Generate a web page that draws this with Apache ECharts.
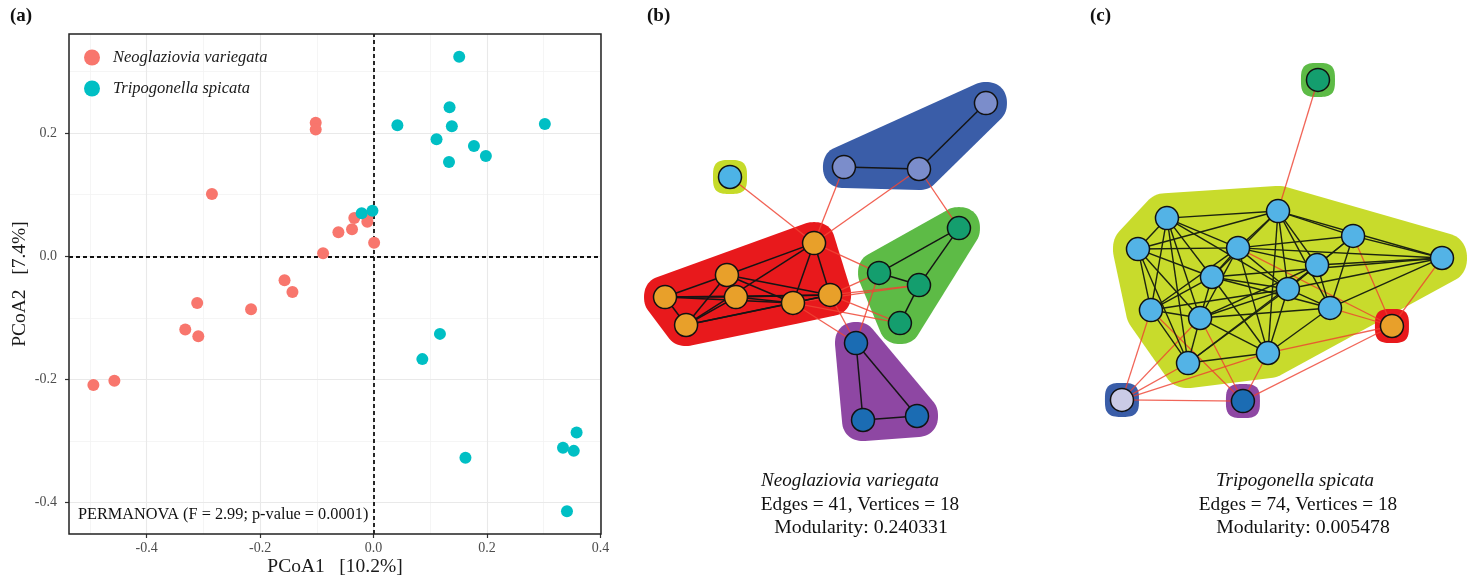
<!DOCTYPE html>
<html><head><meta charset="utf-8">
<script src="https://cdn.jsdelivr.net/npm/echarts@6/dist/echarts.min.js"></script>
<style>html,body{margin:0;padding:0;background:#fff}#c{width:1470px;height:580px}</style>
</head><body><div id="c"></div>
<script>
// ---------------- Panel (a): PCoA ----------------
const neoName = 'Neoglaziovia variegata';
const triName = 'Tripogonella spicata';
const neoX = [-0.494,-0.457,-0.332,-0.309,-0.311,-0.285,-0.216,-0.157,-0.143,-0.102,-0.102,-0.089,-0.062,-0.038,-0.034,-0.011,-0.011,0.001];
const neoY = [-0.209,-0.202,-0.119,-0.130,-0.076,0.101,-0.086,-0.039,-0.058,0.217,0.206,0.005,0.039,0.044,0.062,0.065,0.056,0.022];
const triX = [0.151,0.042,0.134,0.138,0.111,0.133,0.177,0.198,0.302,-0.021,-0.002,0.117,0.086,0.162,0.358,0.334,0.353,0.341];
const triY = [0.324,0.213,0.242,0.211,0.190,0.153,0.179,0.163,0.215,0.070,0.074,-0.126,-0.167,-0.327,-0.286,-0.311,-0.316,-0.414];
const xTicks = [-0.4,-0.2,0,0.2,0.4];
const yTicks = [-0.4,-0.2,0,0.2];
const xMinor = [-0.5,-0.3,-0.1,0.1,0.3];
const yMinor = [-0.3,-0.1,0.1,0.3];
const xTitle = 'PCoA1   [10.2%]';
const yTitle = 'PCoA2   [7.4%]';
const statText = 'PERMANOVA (F = 2.99; p-value = 0.0001)';

// ---------------- Panel (b): network ----------------
const bNodes = ['B1','B2','B3','Y1','R1','R2','R3','R4','R5','R6','R7','G1','G2','G3','G4','P1','P2','P3'];
const bX = [0.922,0.133,0.55,-0.5,-0.033,-0.517,-0.467,-0.861,-0.15,0.056,-0.744,0.772,0.328,0.55,0.444,0.2,0.239,0.539];
const bY = [0.826,0.489,0.479,0.437,0.089,-0.079,-0.195,-0.195,-0.226,-0.184,-0.342,0.168,-0.068,-0.132,-0.332,-0.437,-0.842,-0.821];
const bGroup = [0,0,0,1,2,2,2,2,2,2,2,3,3,3,3,4,4,4];
const bEdges = [
  ['B2','B3'],['B3','B1'],
  ['P1','P2'],['P1','P3'],['P2','P3'],
  ['G1','G2'],['G1','G3'],['G2','G3'],['G3','G4'],
  ['R1','R2'],['R1','R7'],['R1','R5'],['R1','R6'],['R2','R3'],['R2','R4'],['R2','R5'],['R2','R6'],['R2','R7'],
  ['R3','R4'],['R3','R5'],['R3','R6'],['R3','R7'],['R4','R5'],['R4','R6'],['R4','R7'],['R5','R6'],['R5','R7'],['R6','R7'],
  ['Y1','R1'],['B2','R1'],['B3','R1'],['B3','G1'],['R1','G2'],['R6','G2'],['R6','G3'],['R5','G3'],['R6','G4'],['R5','G4'],
  ['R6','P1'],['R5','P1'],['G2','P1']
];
const bCaption = ['Neoglaziovia variegata','Edges = 41, Vertices = 18','Modularity: 0.240331'];

// ---------------- Panel (c): network ----------------
const cNodes = ['G','C1','C2','C3','C4','C5','C6','C7','C8','C9','C10','C11','C12','C13','C14','R','Bl','Pu'];
const cX = [0.211,-0.628,-0.011,-0.789,-0.233,0.406,0.9,0.206,-0.378,0.044,-0.717,-0.444,0.278,-0.511,-0.067,0.622,-0.878,-0.206];
const cY = [0.895,0.168,0.205,0.005,0.011,0.074,-0.042,-0.079,-0.142,-0.205,-0.316,-0.358,-0.305,-0.595,-0.542,-0.4,-0.789,-0.795];
const cGroup = [0,1,1,1,1,1,1,1,1,1,1,1,1,1,1,2,3,4];
const cEdges = [
  ['C1','C2'],['C1','C3'],['C1','C4'],['C1','C8'],['C1','C9'],['C1','C10'],['C1','C11'],['C1','C13'],
  ['C2','C3'],['C2','C4'],['C2','C5'],['C2','C6'],['C2','C7'],['C2','C8'],['C2','C9'],['C2','C12'],['C2','C14'],
  ['C3','C4'],['C3','C8'],['C3','C10'],['C3','C11'],['C3','C13'],
  ['C4','C5'],['C4','C6'],['C4','C8'],['C4','C9'],['C4','C10'],['C4','C11'],['C4','C14'],['C4','C7'],
  ['C5','C6'],['C5','C7'],['C5','C9'],['C5','C12'],
  ['C6','C7'],['C6','C8'],['C6','C9'],['C6','C12'],
  ['C7','C9'],['C7','C11'],['C7','C12'],['C7','C13'],
  ['C8','C9'],['C8','C10'],['C8','C11'],['C8','C12'],['C8','C14'],
  ['C9','C10'],['C9','C11'],['C9','C12'],['C9','C13'],['C9','C14'],
  ['C10','C11'],['C10','C13'],
  ['C11','C12'],['C11','C13'],['C11','C14'],
  ['C12','C14'],['C13','C14'],
  ['G','C2'],['R','C4'],['R','C5'],['R','C6'],['R','C12'],['R','C14'],['R','Pu'],['Bl','Pu'],
  ['Bl','C10'],['Bl','C11'],['Bl','C13'],['Bl','C14'],['Pu','C10'],['Pu','C11'],['Pu','C14']
];
const cCaption = ['Tripogonella spicata','Edges = 74, Vertices = 18','Modularity: 0.005478'];

// ---------------- styles ----------------
const FONT = "'Liberation Serif', 'DejaVu Serif', serif";
const colNeo = '#F8766D', colTri = '#00BFC4';
const bHullFill = ['#3A5DA8','#C6DB2A','#E8191C','#5DBB46','#8E47A3'];
const bNodeFill = ['#7B8DCB','#4DB3E6','#E8A02A','#149E6E','#1B6CB3'];
const cHullFill = ['#5DBB46','#C8DB2C','#E8191C','#3A5DA8','#8E47A3'];
const cNodeFill = ['#149E6E','#53B3E6','#E8A02A','#CACBE6','#1B6CB3'];

function convexHull(pts){
  const p = pts.slice().sort((a,b)=>a[0]-b[0]||a[1]-b[1]);
  const cross=(o,a,b)=>(a[0]-o[0])*(b[1]-o[1])-(a[1]-o[1])*(b[0]-o[0]);
  const lo=[],up=[];
  for(const q of p){while(lo.length>=2&&cross(lo[lo.length-2],lo[lo.length-1],q)<=0)lo.pop();lo.push(q);}
  for(let i=p.length-1;i>=0;i--){const q=p[i];while(up.length>=2&&cross(up[up.length-2],up[up.length-1],q)<=0)up.pop();up.push(q);}
  up.pop();lo.pop();return lo.concat(up);
}
function blob(c, r, n){
  const out=[];
  for(let k=0;k<64;k++){
    const t=k/64*Math.PI*2, ct=Math.cos(t), st=Math.sin(t);
    const rr = r/Math.pow(Math.pow(Math.abs(ct),n)+Math.pow(Math.abs(st),n),1/n);
    out.push([c[0]+rr*ct, c[1]+rr*st]);
  }
  return out;
}
function hullSeries(xs, ys, groups, fills, axisIdx, padFn){
  const nG = fills.length;
  const data = [];
  for(let g=0; g<nG; g++) data.push([g]);
  return {
    type:'custom', coordinateSystem:'cartesian2d', xAxisIndex:axisIdx, yAxisIndex:axisIdx,
    silent:true, z:1, clip:false, data:data,
    encode:{x:0, y:0},
    renderItem:function(params, api){
      const g = data[params.dataIndex][0];
      let count=0;
      for(let i=0;i<xs.length;i++){ if(groups[i]===g){ count++; } }
      const pad = padFn(g, count);
      let pts=[];
      for(let i=0;i<xs.length;i++){
        if(groups[i]!==g) continue;
        const c = api.coord([xs[i], ys[i]]);
        pts = pts.concat(blob(c, pad, count===1 ? 3.2 : 2.2));
      }
      const h = convexHull(pts);
      return {type:'polygon', shape:{points:h, smooth:0}, style:{fill:fills[g], stroke:null}};
    }
  };
}
function edgeSeries(nodes, xs, ys, groups, edges, axisIdx, sameGroup, color, width, z, opacity){
  const data=[];
  for(const e of edges){
    const i=nodes.indexOf(e[0]), j=nodes.indexOf(e[1]);
    if((groups[i]===groups[j])!==sameGroup) continue;
    data.push({coords:[[xs[i],ys[i]],[xs[j],ys[j]]]});
  }
  return {type:'lines', coordinateSystem:'cartesian2d', xAxisIndex:axisIdx, yAxisIndex:axisIdx,
    silent:true, z:z, clip:false, data:data, symbol:'none',
    lineStyle:{color:color, width:width, opacity:opacity, curveness:0}};
}
function nodeSeries(xs, ys, groups, fills, axisIdx){
  return {type:'scatter', xAxisIndex:axisIdx, yAxisIndex:axisIdx, silent:true, z:5, clip:false,
    symbolSize:23,
    data: xs.map((x,i)=>({value:[x, ys[i]], itemStyle:{color:fills[groups[i]], borderColor:'#111', borderWidth:1.5, opacity:1}}))};
}
const X0 = -0.537, X1 = 0.401, Y0 = -0.451, Y1 = 0.361;
function vLines(list){ return list.map(v=>({coords:[[v,Y0],[v,Y1]]})); }
function hLines(list){ return list.map(v=>({coords:[[X0,v],[X1,v]]})); }
function refLines(list, color, width, type, z){
  return {type:'lines', coordinateSystem:'cartesian2d', xAxisIndex:0, yAxisIndex:0, silent:true, z:z,
    symbol:'none', data:list, lineStyle:{color:color, width:width, type:type, opacity:1}};
}

const chart = echarts.init(document.getElementById('c'), null, {renderer:'canvas'});
const lab = {fontFamily:FONT, fontSize:14, color:'#4D4D4D'};
const option = {
  animation:false,
  backgroundColor:'#fff',
  textStyle:{fontFamily:FONT},
  grid:[
    {left:69, top:34, width:532, height:500, show:true, borderColor:'#222', borderWidth:1.5, backgroundColor:'transparent', z:6, outerBoundsMode:'none', containLabel:false},
    {left:640, top:70, width:360, height:380, show:false, outerBoundsMode:'none'},
    {left:1100, top:60, width:360, height:380, show:false, outerBoundsMode:'none'}
  ],
  xAxis:[
    {gridIndex:0, type:'value', min:X0, max:X1,
     axisLine:{show:false, onZero:false}, splitLine:{show:false},
     axisTick:{show:true, customValues:xTicks, length:4, lineStyle:{color:'#333', width:1.2}},
     axisLabel:{customValues:xTicks, margin:7, ...lab, formatter:v=>Number(v).toFixed(1)},
     name:xTitle, nameLocation:'middle', nameGap:23, nameMoveOverlap:false,
     nameTextStyle:{fontFamily:FONT, fontSize:19.5, color:'#1a1a1a', verticalAlign:'top'}},
    {gridIndex:1, type:'value', min:-1, max:1, show:false},
    {gridIndex:2, type:'value', min:-1, max:1, show:false}
  ],
  yAxis:[
    {gridIndex:0, type:'value', min:Y0, max:Y1,
     axisLine:{show:false, onZero:false}, splitLine:{show:false},
     axisTick:{show:true, customValues:yTicks, length:4, lineStyle:{color:'#333', width:1.2}},
     axisLabel:{customValues:yTicks, margin:12, ...lab, formatter:v=>Number(v).toFixed(1)},
     name:yTitle, nameLocation:'middle', nameGap:39, nameRotate:90, nameMoveOverlap:false,
     nameTextStyle:{fontFamily:FONT, fontSize:19.5, color:'#1a1a1a'}},
    {gridIndex:1, type:'value', min:-1, max:1, show:false},
    {gridIndex:2, type:'value', min:-1, max:1, show:false}
  ],
  legend:{
    data:[neoName, triName], orient:'vertical', left:84, top:49, padding:0,
    itemWidth:16, itemHeight:16, itemGap:14, icon:'circle', selectedMode:false,
    textStyle:{fontFamily:FONT, fontSize:16.5, fontStyle:'italic', color:'#1a1a1a', padding:[0,0,0,8]}
  },
  series:[
    refLines(vLines(xMinor).concat(hLines(yMinor)), '#F3F3F3', 0.8, 'solid', 0),
    refLines(vLines(xTicks).concat(hLines(yTicks)), '#E9E9E9', 1.1, 'solid', 0),
    refLines(vLines([0]).concat(hLines([0])), '#111', 1.8, [4,3], 2),
    {type:'scatter', name:neoName, xAxisIndex:0, yAxisIndex:0, symbolSize:12, z:4,
     itemStyle:{color:colNeo, opacity:1}, data:neoX.map((x,i)=>[x,neoY[i]])},
    {type:'scatter', name:triName, xAxisIndex:0, yAxisIndex:0, symbolSize:12, z:4,
     itemStyle:{color:colTri, opacity:1}, data:triX.map((x,i)=>[x,triY[i]])},

    hullSeries(bX, bY, bGroup, bHullFill, 1, (g,n)=> n===1 ? 17 : 21),
    edgeSeries(bNodes, bX, bY, bGroup, bEdges, 1, false, '#EE4535', 1.3, 2, 0.85),
    edgeSeries(bNodes, bX, bY, bGroup, bEdges, 1, true, '#151515', 1.5, 3, 1),
    nodeSeries(bX, bY, bGroup, bNodeFill, 1),

    hullSeries(cX, cY, cGroup, cHullFill, 2, (g,n)=> n===1 ? 17 : 25),
    edgeSeries(cNodes, cX, cY, cGroup, cEdges, 2, false, '#EE4030', 1.3, 2, 0.8),
    edgeSeries(cNodes, cX, cY, cGroup, cEdges, 2, true, '#1c2410', 1.4, 3, 1),
    nodeSeries(cX, cY, cGroup, cNodeFill, 2)
  ],
  graphic:[
    {type:'text', left:10, top:7, style:{text:'(a)', font:'bold 19px '+FONT, fill:'#111'}},
    {type:'text', left:647, top:7, style:{text:'(b)', font:'bold 19px '+FONT, fill:'#111'}},
    {type:'text', left:1090, top:7, style:{text:'(c)', font:'bold 19px '+FONT, fill:'#111'}},
    {type:'text', x:78, y:515, z:10, style:{text:statText, font:'16.3px '+FONT, fill:'#111', textVerticalAlign:'middle'}},
    {type:'text', x:850, y:481, style:{text:bCaption[0], font:'italic 19px '+FONT, fill:'#111', textAlign:'center', textVerticalAlign:'middle'}},
    {type:'text', x:860, y:505, style:{text:bCaption[1], font:'19.3px '+FONT, fill:'#111', textAlign:'center', textVerticalAlign:'middle'}},
    {type:'text', x:861, y:528, style:{text:bCaption[2], font:'19.8px '+FONT, fill:'#111', textAlign:'center', textVerticalAlign:'middle'}},
    {type:'text', x:1295, y:481, style:{text:cCaption[0], font:'italic 19px '+FONT, fill:'#111', textAlign:'center', textVerticalAlign:'middle'}},
    {type:'text', x:1298, y:505, style:{text:cCaption[1], font:'19.3px '+FONT, fill:'#111', textAlign:'center', textVerticalAlign:'middle'}},
    {type:'text', x:1303, y:528, style:{text:cCaption[2], font:'19.8px '+FONT, fill:'#111', textAlign:'center', textVerticalAlign:'middle'}}
  ]
};
chart.setOption(option);
</script>
</body></html>
